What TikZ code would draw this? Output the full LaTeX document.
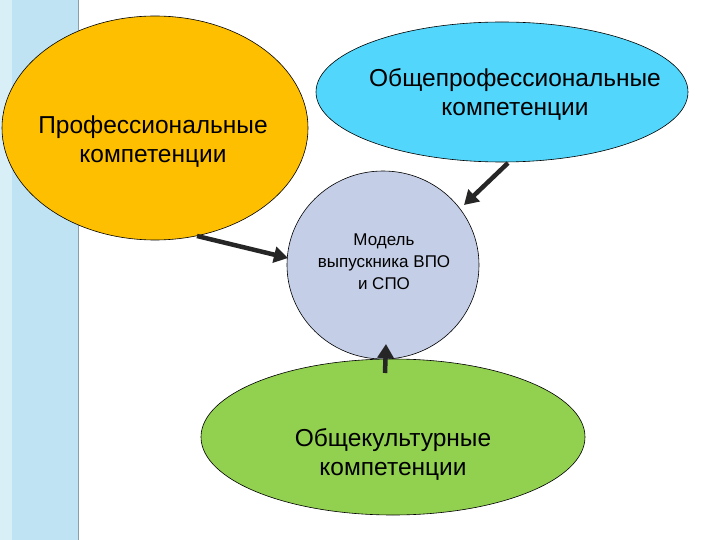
\documentclass[tikz,border=0pt]{standalone}
\usepackage{fontspec}
\setmainfont{Liberation Sans}
\usetikzlibrary{arrows.meta,shapes.geometric}
\definecolor{barblue}{HTML}{BFE3F2}
\definecolor{barpale}{HTML}{D8EFF8}
\definecolor{orng}{HTML}{FDBF00}
\definecolor{cyanc}{HTML}{52D6FB}
\definecolor{lav}{HTML}{C4CEE6}
\definecolor{grn}{HTML}{92D050}
\tikzset{
  blob/.style={ellipse,draw=black,line width=0.6pt,inner sep=0pt},
  lbl/.style={align=center,font=\fontsize{24.5}{29}\selectfont},
  fatarrow/.style={draw=black!85,line width=4.5pt,-{Triangle[length=14pt,width=16pt]}}
}
\begin{document}
\begin{tikzpicture}[x=1pt,y=-1pt]
\useasboundingbox (0,0) rectangle (720,540);
\fill[white] (0,0) rectangle (720,540);
\fill[barblue] (0,0) rectangle (78,540);
\fill[barpale] (0,0) rectangle (12,540);
\draw[barblue!70!black,line width=0.6pt] (78,0) -- (78,540);
\node[blob,fill=orng,minimum width=306pt,minimum height=224pt] (prof) at (155,128) {};
\node[lbl] (proft) at (153,142) {Профессиональные\\компетенции};
\node[blob,fill=cyanc,minimum width=372pt,minimum height=140pt] (obpr) at (502,92) {};
\node[lbl] (obprt) at (515,94) {Общепрофессиональные\\компетенции};
\node[blob,fill=lav,minimum width=192pt,minimum height=188pt] (model) at (383,265) {};
\node[align=center,font=\fontsize{17}{22}\selectfont] (modelt) at (384,262) {Модель\\выпускника ВПО\\и СПО};
\node[blob,fill=grn,minimum width=384pt,minimum height=156pt] (obkul) at (393,437) {};
\node[lbl] (obkult) at (393,454) {Общекультурные\\компетенции};
\coordinate (a1) at (197,236);
\coordinate (b1) at (288,258);
\coordinate (a2) at (508,163);
\coordinate (b2) at (464,205);
\coordinate (a3) at (385,373);
\coordinate (b3) at (386,344);
\draw[fatarrow] (a1) -- (b1);
\draw[fatarrow] (a2) -- (b2);
\draw[fatarrow] (a3) -- (b3);
\end{tikzpicture}
\end{document}
